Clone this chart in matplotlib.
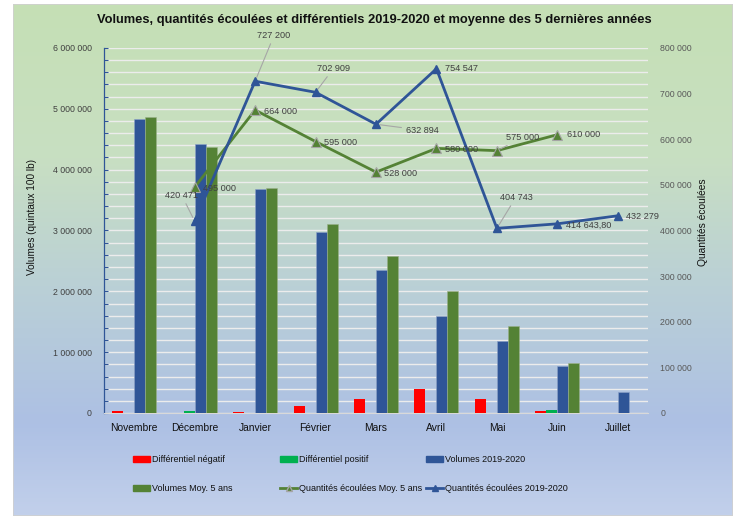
import numpy as np
import matplotlib
matplotlib.use('Agg')
import matplotlib.pyplot as plt
from matplotlib.lines import Line2D
from matplotlib.patches import Patch, Rectangle
from matplotlib.colors import LinearSegmentedColormap
from matplotlib.ticker import MultipleLocator, FuncFormatter

plt.rcParams['font.family'] = ['Liberation Sans', 'DejaVu Sans']

# ---------------- data ----------------
months = ['Novembre', 'Décembre', 'Janvier', 'Février', 'Mars', 'Avril', 'Mai', 'Juin', 'Juillet']
diff_neg = [30000, 0, 20000, 120000, 225000, 395000, 230000, 33000, 0]
diff_pos = [0, 40000, 0, 0, 0, 0, 0, 50000, 0]
vol_2019 = [4830000, 4420000, 3680000, 2980000, 2350000, 1595000, 1180000, 770000, 340000]
vol_moy = [4870000, 4370000, 3700000, 3110000, 2580000, 2000000, 1425000, 820000, np.nan]
qte_2019 = [np.nan, 420471, 727200, 702909, 632894, 754547, 404743, 414643.80, 432279]
qte_moy = [np.nan, 495000, 664000, 595000, 528000, 580000, 575000, 610000, np.nan]
qte_2019_labels = ['', '420 471', '727 200', '702 909', '632 894', '754 547', '404 743', '414 643,80', '432 279']
qte_moy_labels = ['', '495 000', '664 000', '595 000', '528 000', '580 000', '575 000', '610 000', '']

# label offsets in pixels (dx, dy up) and whether a leader line is drawn
off_2019 = [None, (-13, 26, True), (19, 46, True), (18, 24, True), (46, -6, True),
            (25, 0, False), (19, 31, True), (31, -1, False), (25, -1, False)]
off_moy = [None, (25, -1, False), (25, -1, False), (25, -1, False), (25, -1, False),
           (25, -1, False), (26, 13, True), (26, 0, False), None]

BLUE = '#2f5597'
GREEN = '#548235'
RED = '#ff0000'
LGREEN = '#00b050'

W, H = 735, 516
fig = plt.figure(figsize=(W / 100, H / 100), dpi=100)
fig.patch.set_facecolor('white')

# gradient background
bg = fig.add_axes([13 / W, 0, 720 / W, 512 / H], zorder=-5)
stops = [(0.0, (197/255, 224/255, 181/255)),
         (0.3, (200/255, 223/255, 194/255)),
         (0.55, (186/255, 208/255, 214/255)),
         (0.82, (173/255, 192/255, 228/255)),
         (1.0, (194/255, 208/255, 235/255))]
cmap = LinearSegmentedColormap.from_list('bg', stops)
grad = np.linspace(0, 1, 256).reshape(-1, 1)
bg.imshow(grad, aspect='auto', cmap=cmap, extent=[0, 1, 0, 1], origin='upper')
bg.set_xlim(0, 1); bg.set_ylim(0, 1)
bg.axis('off')
bg.add_patch(Rectangle((0, 0), 1, 1, fill=False, edgecolor='#d0d0d0', lw=1.2,
                       transform=bg.transAxes))

ax = fig.add_axes([104 / W, 103 / H, 544 / W, 365 / H])
ax.set_facecolor('none')
x = np.arange(len(months))
w = 0.182
ax.bar(x - 1.5 * w, diff_neg, w, color=RED, zorder=3)
ax.bar(x - 0.5 * w, diff_pos, w, color=LGREEN, zorder=3)
ax.bar(x + 0.5 * w, vol_2019, w, color=BLUE, edgecolor='#8ea3c8', lw=0.4, zorder=3)
ax.bar(x + 1.5 * w, vol_moy, w, color=GREEN, edgecolor='#9ab08a', lw=0.4, zorder=3)
ax.set_xlim(-0.5, len(months) - 0.5)
ax.set_ylim(0, 6000000)
ax.yaxis.set_major_locator(MultipleLocator(1000000))
ax.yaxis.set_minor_locator(MultipleLocator(200000))
ax.yaxis.set_major_formatter(FuncFormatter(lambda v, p: f'{int(v):,}'.replace(',', ' ')))
ax.yaxis.grid(True, which='both', color='#ececec', lw=1.0, zorder=0)
ax.set_axisbelow(True)
ax.tick_params(axis='y', which='both', direction='in', length=3, color=BLUE, width=0.8,
               labelsize=6.3, labelcolor='#404040', pad=9)
ax.set_xticks(x)
ax.set_xticklabels(months, fontsize=7.4, color='#111111')
ax.tick_params(axis='x', length=0, pad=7)
for s in ['top', 'right']:
    ax.spines[s].set_visible(False)
ax.spines['left'].set_color(BLUE)
ax.spines['left'].set_linewidth(0.9)
ax.spines['bottom'].set_color('#d9d9d9')

ax2 = ax.twinx()
ax2.set_facecolor('none')
ax2.set_ylim(0, 800000)
ax2.yaxis.set_major_locator(MultipleLocator(100000))
ax2.yaxis.set_major_formatter(FuncFormatter(lambda v, p: f'{int(v):,}'.replace(',', ' ')))
ax2.tick_params(axis='y', length=0, labelsize=6.3, labelcolor='#595959', pad=9)
for s in ax2.spines.values():
    s.set_visible(False)

ax2.plot(x, qte_moy, color=GREEN, lw=2, marker='^', ms=7.5, mfc=GREEN, mec='#a5a5a5', mew=0.8, zorder=4)
ax2.plot(x, qte_2019, color=BLUE, lw=2, marker='^', ms=6, mfc=BLUE, mec=BLUE, zorder=5)

def put_labels(vals, labels, offs):
    for i, (v, t, o) in enumerate(zip(vals, labels, offs)):
        if o is None or not t:
            continue
        dx, dy, lead = o
        ap = dict(arrowstyle='-', color='#a6a6a6', lw=0.8, shrinkA=1, shrinkB=3) if lead else None
        ax2.annotate(t, xy=(i, v), xytext=(dx, dy), textcoords='offset pixels',
                     ha='center', va='center', fontsize=6.6, color='#404040',
                     arrowprops=ap, zorder=6)

put_labels(qte_moy, qte_moy_labels, off_moy)
put_labels(qte_2019, qte_2019_labels, off_2019)

fig.text(374 / W, 1 - 20 / H,
         'Volumes, quantités écoulées et différentiels 2019-2020 et moyenne des 5 dernières années',
         ha='center', va='center', fontsize=9.3, fontweight='bold', color='#111111')
fig.text(32 / W, 1 - 217 / H, 'Volumes (quintaux 100 lb)', rotation=90,
         ha='center', va='center', fontsize=7.2, color='#111111')
fig.text(703 / W, 1 - 222 / H, 'Quantités écoulées', rotation=90,
         ha='center', va='center', fontsize=7.4, color='#111111')

h_neg = Patch(color=RED, label='Différentiel négatif')
h_pos = Patch(color=LGREEN, label='Différentiel positif')
h_vol = Patch(color=BLUE, label='Volumes 2019-2020')
h_vmoy = Patch(color=GREEN, label='Volumes Moy. 5 ans')
h_qmoy = Line2D([], [], color=GREEN, lw=2, marker='^', ms=5, mfc=GREEN, mec='#a5a5a5',
                label='Quantités écoulées Moy. 5 ans')
h_q19 = Line2D([], [], color=BLUE, lw=2, marker='^', ms=5, mfc=BLUE,
               label='Quantités écoulées 2019-2020')

for hs, xs in [([h_neg, h_vmoy], 133), ([h_pos, h_qmoy], 280), ([h_vol, h_q19], 426)]:
    fig.legend(handles=hs, loc='upper left', bbox_to_anchor=(xs / W, 1 - 455 / H),
               frameon=False, fontsize=6.5, handlelength=1.9, handleheight=0.6,
               handletextpad=0.2, labelspacing=2.2, borderpad=0, borderaxespad=0,
               labelcolor='#111111')

fig.savefig('out.png', dpi=100)
